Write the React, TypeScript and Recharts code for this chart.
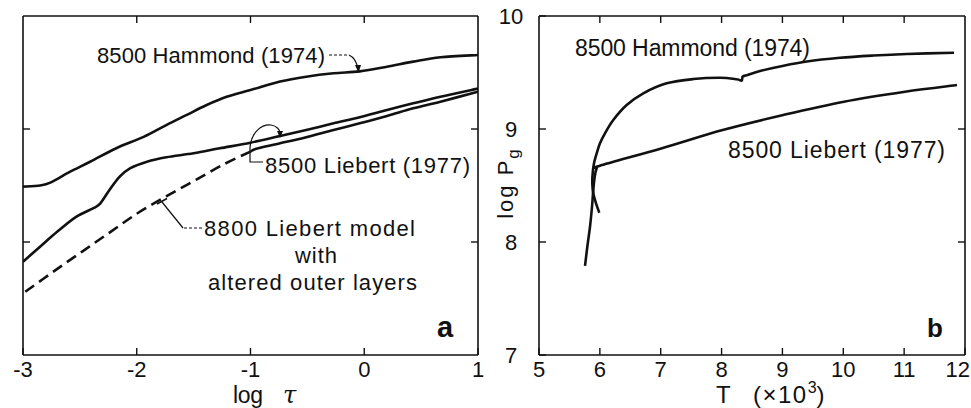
import React from 'react';
import { LineChart, Line, XAxis, YAxis } from 'recharts';

const INK = '#111';
const FONT = "'Liberation Sans', Arial, Helvetica, sans-serif";

// ---------- Panel a : log tau ----------
const tauTicks = [-3, -2, -1, 0, 1];
const tauInnerTicks = [-2, -1, 0];
const aYTicks = [1, 2];

const hammondA = [
  { x: -3.0, y: 1.49 }, { x: -2.85, y: 1.5 }, { x: -2.76, y: 1.525 }, { x: -2.59, y: 1.62 },
  { x: -2.41, y: 1.71 }, { x: -2.18, y: 1.83 }, { x: -1.94, y: 1.93 }, { x: -1.74, y: 2.035 },
  { x: -1.56, y: 2.125 }, { x: -1.39, y: 2.21 }, { x: -1.21, y: 2.285 }, { x: -1.0, y: 2.345 },
  { x: -0.74, y: 2.42 }, { x: -0.51, y: 2.463 }, { x: -0.27, y: 2.493 }, { x: -0.04, y: 2.51 },
  { x: 0.2, y: 2.551 }, { x: 0.43, y: 2.596 }, { x: 0.67, y: 2.635 }, { x: 1.0, y: 2.655 },
];

const liebertA = [
  { x: -3.0, y: 0.826 }, { x: -2.85, y: 0.958 }, { x: -2.7, y: 1.09 }, { x: -2.53, y: 1.224 },
  { x: -2.38, y: 1.3 }, { x: -2.32, y: 1.342 }, { x: -2.24, y: 1.46 }, { x: -2.15, y: 1.578 },
  { x: -2.06, y: 1.652 }, { x: -1.91, y: 1.711 }, { x: -1.74, y: 1.75 }, { x: -1.5, y: 1.785 },
  { x: -1.27, y: 1.829 }, { x: -1.0, y: 1.879 }, { x: -0.74, y: 1.938 }, { x: -0.51, y: 1.991 },
  { x: -0.27, y: 2.05 }, { x: -0.04, y: 2.104 }, { x: 0.2, y: 2.168 }, { x: 0.43, y: 2.227 },
  { x: 0.67, y: 2.286 }, { x: 1.0, y: 2.358 },
];

const liebert8800Dashed = [
  { x: -2.98, y: 0.56 }, { x: -2.73, y: 0.74 }, { x: -2.48, y: 0.915 }, { x: -2.23, y: 1.09 },
  { x: -1.98, y: 1.263 }, { x: -1.73, y: 1.41 }, { x: -1.48, y: 1.55 }, { x: -1.23, y: 1.69 },
  { x: -1.0, y: 1.8 },
];

const liebert8800Solid = [
  { x: -1.0, y: 1.8 }, { x: -0.95, y: 1.825 }, { x: -0.74, y: 1.873 }, { x: -0.51, y: 1.927 },
  { x: -0.27, y: 1.991 }, { x: -0.04, y: 2.05 }, { x: 0.2, y: 2.115 }, { x: 0.43, y: 2.183 },
  { x: 0.67, y: 2.242 }, { x: 1.0, y: 2.33 },
];

// ---------- Panel b : T (x10^3) ----------
const tempTicks = [5, 6, 7, 8, 9, 10, 11, 12];
const tempInnerTicks = [6, 7, 8, 9, 10, 11];
const pgTicks = [7, 8, 9, 10];
const pgInnerTicks = [8, 9];

const hammondB = [
  { x: 5.991, y: 8.259 }, { x: 5.937, y: 8.342 }, { x: 5.892, y: 8.431 }, { x: 5.876, y: 8.519 },
  { x: 5.882, y: 8.608 }, { x: 5.904, y: 8.696 }, { x: 5.948, y: 8.785 }, { x: 6.002, y: 8.873 },
  { x: 6.084, y: 8.962 }, { x: 6.221, y: 9.08 }, { x: 6.441, y: 9.212 }, { x: 6.714, y: 9.316 },
  { x: 7.098, y: 9.404 }, { x: 7.535, y: 9.442 }, { x: 7.974, y: 9.454 }, { x: 8.248, y: 9.44 },
  { x: 8.33, y: 9.428 }, { x: 8.346, y: 9.463 }, { x: 8.412, y: 9.476 }, { x: 8.631, y: 9.513 },
  { x: 8.96, y: 9.553 }, { x: 9.399, y: 9.597 }, { x: 9.946, y: 9.63 }, { x: 10.493, y: 9.65 },
  { x: 11.042, y: 9.664 }, { x: 11.819, y: 9.675 },
];

const liebertB = [
  { x: 5.756, y: 7.788 }, { x: 5.794, y: 7.958 }, { x: 5.838, y: 8.135 }, { x: 5.871, y: 8.312 },
  { x: 5.892, y: 8.46 }, { x: 5.915, y: 8.578 }, { x: 5.948, y: 8.652 }, { x: 5.991, y: 8.673 },
  { x: 7.021, y: 8.83 }, { x: 8.018, y: 8.991 }, { x: 9.014, y: 9.124 }, { x: 10.011, y: 9.242 },
  { x: 11.014, y: 9.33 }, { x: 11.868, y: 9.389 },
];

// ---------- layout ----------
const W = 971;
const H = 408;
const TOP = 16;
const BOTTOM = 355;
const A_LEFT = 23;
const A_RIGHT = 478;
const B_OFFSET = 490;
const B_LEFT = 539;
const B_RIGHT = 965;
const AX = 1; // thickness reserved for each axis band

// Catmull-Rom curve factory (passes through every read point)
const catmullRom = (context: any) => {
  let pts: number[][] = [];
  return {
    areaStart() {},
    areaEnd() {},
    lineStart() {
      pts = [];
    },
    lineEnd() {
      const n = pts.length;
      if (n === 0) return;
      context.moveTo(pts[0][0], pts[0][1]);
      for (let i = 0; i < n - 1; i++) {
        const p0 = pts[i > 0 ? i - 1 : i];
        const p1 = pts[i];
        const p2 = pts[i + 1];
        const p3 = pts[i + 2 < n ? i + 2 : i + 1];
        context.bezierCurveTo(
          p1[0] + (p2[0] - p0[0]) / 6,
          p1[1] + (p2[1] - p0[1]) / 6,
          p2[0] - (p3[0] - p1[0]) / 6,
          p2[1] - (p3[1] - p1[1]) / 6,
          p2[0],
          p2[1]
        );
      }
    },
    point(x: number, y: number) {
      pts.push([+x, +y]);
    },
  };
};

const axisLine = { stroke: INK, strokeWidth: 1.6 };
const tickLine = { stroke: INK, strokeWidth: 1.4 };
const noLabel = () => <g />;

const makeBottomLabel = (maxX: number) => (props: any) => {
  const { x, payload } = props;
  const atEdge = x + 12 > maxX;
  return (
    <text
      x={atEdge ? maxX - 1 : x}
      y={BOTTOM + 22}
      textAnchor={atEdge ? 'end' : 'middle'}
      fontSize={22}
      fontFamily={FONT}
      fill={INK}
    >
      {String(payload.value)}
    </text>
  );
};

const PgLabel = (props: any) => {
  const { y, payload } = props;
  return (
    <text x={B_LEFT - B_OFFSET - 28} y={y + 8} textAnchor="middle" fontSize={22} fontFamily={FONT} fill={INK}>
      {String(payload.value)}
    </text>
  );
};

const seriesStyle = { stroke: INK, strokeWidth: 2.6, dot: false as const, isAnimationActive: false };

const T = (p: { x: number; y: number; len?: number; size?: number; children: any; bold?: boolean; anchor?: string }) => (
  <text
    x={p.x}
    y={p.y}
    fontSize={p.size ?? 22}
    fontFamily={FONT}
    fontWeight={p.bold ? 700 : 400}
    fill={INK}
    textAnchor={(p.anchor as any) ?? 'start'}
    {...(p.len ? { textLength: p.len, lengthAdjust: 'spacing' } : {})}
  >
    {p.children}
  </text>
);

export default function App() {
  return (
    <div style={{ position: 'absolute', left: 0, top: 0, width: W, height: H, background: '#fff', overflow: 'hidden' }}>
      {/* Panel a */}
      <div style={{ position: 'absolute', left: 0, top: 0 }}>
        <LineChart width={B_OFFSET} height={H}
          margin={{ top: TOP - AX, right: B_OFFSET - A_RIGHT - AX, bottom: H - BOTTOM - AX, left: A_LEFT - AX }}>
          <XAxis dataKey="x" type="number" domain={[-3, 1]} ticks={tauTicks} interval={0} allowDataOverflow
            height={AX} tickSize={-7} tickMargin={0} axisLine={axisLine} tickLine={tickLine} tick={makeBottomLabel(B_OFFSET)} />
          <XAxis xAxisId="top" orientation="top" dataKey="x" type="number" domain={[-3, 1]} ticks={tauInnerTicks} interval={0} allowDataOverflow
            height={AX} tickSize={-7} axisLine={axisLine} tickLine={tickLine} tick={noLabel} />
          <YAxis type="number" domain={[0, 3]} ticks={aYTicks} interval={0} allowDataOverflow
            width={AX} tickSize={-7} axisLine={axisLine} tickLine={tickLine} tick={noLabel} />
          <YAxis yAxisId="right" orientation="right" type="number" domain={[0, 3]} ticks={aYTicks} interval={0} allowDataOverflow
            width={AX} tickSize={-7} axisLine={axisLine} tickLine={tickLine} tick={noLabel} />
          <Line data={hammondA} dataKey="y" type={catmullRom as any} {...seriesStyle} />
          <Line data={liebertA} dataKey="y" type={catmullRom as any} {...seriesStyle} />
          <Line data={liebert8800Dashed} dataKey="y" type={catmullRom as any} {...seriesStyle} strokeDasharray="11 6" />
          <Line data={liebert8800Solid} dataKey="y" type={catmullRom as any} {...seriesStyle} />
        </LineChart>
      </div>

      {/* Panel b */}
      <div style={{ position: 'absolute', left: B_OFFSET, top: 0 }}>
        <LineChart width={W - B_OFFSET} height={H}
          margin={{ top: TOP - AX, right: W - B_RIGHT - AX, bottom: H - BOTTOM - AX, left: B_LEFT - B_OFFSET - AX }}>
          <XAxis dataKey="x" type="number" domain={[5, 12]} ticks={tempTicks} interval={0} allowDataOverflow
            height={AX} tickSize={-7} tickMargin={0} axisLine={axisLine} tickLine={tickLine} tick={makeBottomLabel(W - B_OFFSET)} />
          <XAxis xAxisId="top" orientation="top" dataKey="x" type="number" domain={[5, 12]} ticks={tempInnerTicks} interval={0} allowDataOverflow
            height={AX} tickSize={-7} axisLine={axisLine} tickLine={tickLine} tick={noLabel} />
          <YAxis type="number" domain={[7, 10]} ticks={pgTicks} interval={0} allowDataOverflow
            width={AX} tickSize={-7} axisLine={axisLine} tickLine={tickLine} tick={PgLabel} />
          <YAxis yAxisId="right" orientation="right" type="number" domain={[7, 10]} ticks={pgInnerTicks} interval={0} allowDataOverflow
            width={AX} tickSize={-7} axisLine={axisLine} tickLine={tickLine} tick={noLabel} />
          <Line data={hammondB} dataKey="y" type={catmullRom as any} {...seriesStyle} />
          <Line data={liebertB} dataKey="y" type={catmullRom as any} {...seriesStyle} />
        </LineChart>
      </div>

      {/* Annotations */}
      <svg width={W} height={H} style={{ position: 'absolute', left: 0, top: 0, pointerEvents: 'none' }}>
        {/* panel a texts */}
        <T x={97} y={63} len={228}>8500 Hammond (1974)</T>
        <T x={265} y={173} len={205}>8500 Liebert (1977)</T>
        <T x={204} y={236} len={211}>8800 Liebert model</T>
        <T x={295} y={263} len={42}>with</T>
        <T x={208} y={290} len={209}>altered outer layers</T>
        <T x={437} y={337} size={29} bold>a</T>
        <T x={233} y={403} size={23} len={30}>log</T>
        <text x={283} y={403} fontSize={24} fontFamily="'DejaVu Serif', serif" fontStyle="italic" fill={INK}>τ</text>

        {/* leaders panel a */}
        <path d="M 329 55 H 349" stroke={INK} strokeWidth={1.2} strokeDasharray="3 2" fill="none" />
        <path d="M 349 55 Q 356 58 358 69" stroke={INK} strokeWidth={1.2} fill="none" />
        <path d="M 355 65 L 358.5 73 L 361 65 Z" fill={INK} />

        <path d="M 263 162 L 250 162 L 250 148 C 251 132 262 124 271 125 C 277 126 280 130 280 133" stroke={INK} strokeWidth={1.2} fill="none" />
        <path d="M 277 131 L 280 138 L 283 131 Z" fill={INK} />

        <path d="M 202 228 H 183" stroke={INK} strokeWidth={1.2} strokeDasharray="3 2" fill="none" />
        <path d="M 183 228 L 162 202" stroke={INK} strokeWidth={1.2} fill="none" />
        <path d="M 157 204 L 167 198.5" stroke={INK} strokeWidth={1.6} fill="none" />

        {/* panel b texts */}
        <T x={575} y={56} size={23} len={235}>8500 Hammond (1974)</T>
        <T x={728} y={158} size={23} len={217}>8500 Liebert (1977)</T>
        <T x={927} y={337} size={26} bold>b</T>
        <text x={716} y={403} fontSize={24} fontFamily={FONT} fill={INK}>
          T
          <tspan x={753} letterSpacing={1.5}>(×10</tspan>
          <tspan dy={-10} fontSize={16}>3</tspan>
          <tspan dy={10}>)</tspan>
        </text>
        <g transform="translate(513,183) rotate(-90)">
          <text x={0} y={0} fontSize={22} fontFamily={FONT} fill={INK} textAnchor="middle" letterSpacing={2}>
            log P<tspan dy={6} fontSize={17}>g</tspan>
          </text>
        </g>
      </svg>
    </div>
  );
}
